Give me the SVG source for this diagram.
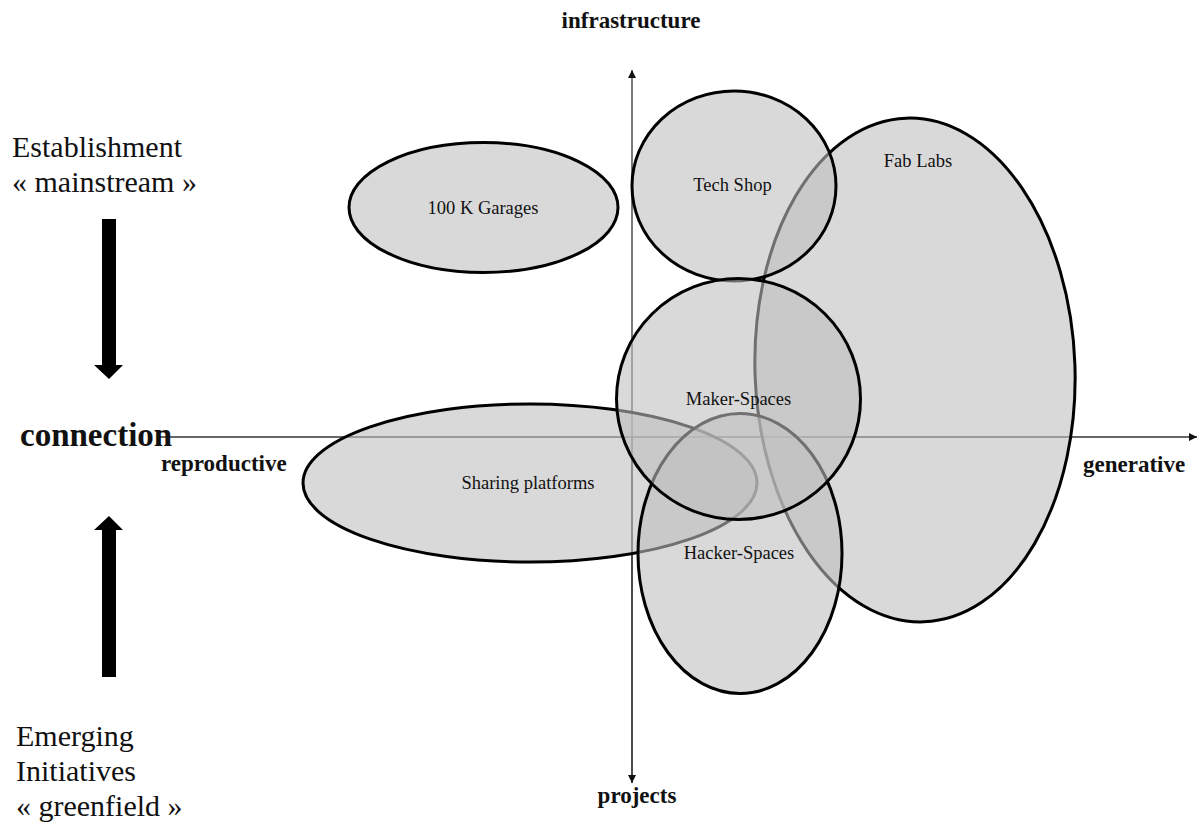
<svg xmlns="http://www.w3.org/2000/svg" width="1198" height="825" viewBox="0 0 1198 825">
  <style>
    .blob { fill: #bebebe; fill-opacity: 0.59; stroke: #000; stroke-width: 3; }
    .lbl { font-family: "Liberation Serif", "Times New Roman", serif; font-size: 18.5px; fill: #111; text-anchor: middle; }
    .axl { font-family: "Liberation Serif", "Times New Roman", serif; font-size: 23px; font-weight: bold; fill: #111; }
    .side { font-family: "Liberation Serif", "Times New Roman", serif; font-size: 30px; fill: #111; }
    .axis { stroke: #333; stroke-width: 1.3; fill: none; }
  </style>
  <defs>
    <marker id="ah" viewBox="0 0 10 10" refX="10" refY="5" markerWidth="8" markerHeight="8" markerUnits="userSpaceOnUse" orient="auto">
      <path d="M0,0 L10,5 L0,10 Z" fill="#111"/>
    </marker>
  </defs>
  <rect width="1198" height="825" fill="#fff"/>

  <g id="connectors">
    <line class="axis" x1="632" y1="783" x2="632" y2="70" marker-end="url(#ah)"/>
    <line class="axis" x1="632" y1="437" x2="632" y2="783" marker-end="url(#ah)"/>
    <line class="axis" x1="160" y1="437" x2="1197" y2="437" marker-end="url(#ah)"/>
    <polygon points="102,219 116,219 116,365 123,365 109,379 94,365 102,365" fill="#000"/>
    <polygon points="109,516 123,530 116,530 116,677 102,677 102,530 94,530" fill="#000"/>
  </g>

  <g id="garages">
    <ellipse class="blob" cx="483.5" cy="207.5" rx="134.5" ry="65"/>
    <text class="lbl" x="483" y="214">100 K Garages</text>
  </g>
  <g id="fablabs">
    <ellipse class="blob" cx="915" cy="370" rx="160" ry="252" transform="rotate(-2 915 370)"/>
    <text class="lbl" x="918" y="167">Fab Labs</text>
  </g>
  <g id="sharing">
    <ellipse class="blob" cx="530" cy="483" rx="227" ry="79"/>
    <text class="lbl" x="528" y="489">Sharing platforms</text>
  </g>
  <g id="hacker">
    <ellipse class="blob" cx="740" cy="553.5" rx="102" ry="140"/>
    <text class="lbl" x="739" y="559">Hacker-Spaces</text>
  </g>
  <g id="techshop">
    <ellipse class="blob" cx="734" cy="186" rx="102" ry="95"/>
    <text class="lbl" x="732.5" y="191">Tech Shop</text>
  </g>
  <g id="maker">
    <ellipse class="blob" cx="738.5" cy="399" rx="122" ry="120.5"/>
    <text class="lbl" x="738.5" y="405">Maker-Spaces</text>
  </g>

  <g id="labels">
    <text class="axl" x="631" y="28" text-anchor="middle">infrastructure</text>
    <text class="axl" x="637" y="803" text-anchor="middle">projects</text>
    <text class="axl" x="161" y="471">reproductive</text>
    <text class="axl" x="1083" y="472">generative</text>
    <text class="axl" x="20" y="446" style="font-size:33px">connection</text>
    <text class="side" x="12" y="157">Establishment</text>
    <text class="side" x="12" y="192">« mainstream »</text>
    <text class="side" x="16" y="746">Emerging</text>
    <text class="side" x="16" y="781">Initiatives</text>
    <text class="side" x="16" y="816">« greenfield »</text>
  </g>
</svg>
